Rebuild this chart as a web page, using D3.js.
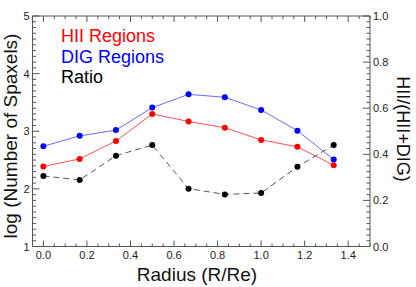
<!DOCTYPE html>
<html>
<head>
<meta charset="utf-8">
<script src="https://cdn.jsdelivr.net/npm/d3@7"></script>
<style>
  body { margin: 0; background: #fff; }
  text { font-family: "Liberation Sans", Arial, sans-serif; }
</style>
</head>
<body>
<svg id="chart" width="416" height="287"></svg>
<script>
const radius = [0, 1/6, 2/6, 3/6, 4/6, 5/6, 1, 7/6, 8/6];
const hiiCounts = [2.39, 2.52, 2.83, 3.30, 3.17, 3.06, 2.85, 2.73, 2.41];
const digCounts = [2.74, 2.92, 3.02, 3.41, 3.64, 3.59, 3.37, 3.01, 2.51];
const ratio = [0.306, 0.289, 0.394, 0.440, 0.251, 0.226, 0.232, 0.346, 0.440];
const xTicks = [0, 0.2, 0.4, 0.6, 0.8, 1.0, 1.2, 1.4];
const yTicks = [1, 2, 3, 4, 5];
const y2Ticks = [0, 0.2, 0.4, 0.6, 0.8, 1.0];

const svg = d3.select("#chart");
const plotL = 32.5, plotR = 370, plotT = 16, plotB = 246.5;
const axisColor = "#555";

const x = d3.scaleLinear().domain([-0.05, 1.5]).range([plotL, plotR]);
const y = d3.scaleLinear().domain([1, 5]).range([plotB, plotT]);
const y2 = d3.scaleLinear().domain([0, 1]).range([plotB, plotT]);

// frame lines
const frame = svg.append("g").attr("stroke", axisColor).attr("stroke-width", 1);
frame.append("line").attr("x1", plotL).attr("x2", plotR).attr("y1", plotB).attr("y2", plotB);
frame.append("line").attr("x1", plotL).attr("x2", plotR).attr("y1", plotT).attr("y2", plotT);
frame.append("line").attr("x1", plotL).attr("x2", plotL).attr("y1", plotT).attr("y2", plotB);
frame.append("line").attr("x1", plotR).attr("x2", plotR).attr("y1", plotT).attr("y2", plotB);

// ticks
const ticks = svg.append("g").attr("stroke", axisColor).attr("stroke-width", 1);
const xMinor = d3.range(0, 1.5001, 0.05);
xMinor.forEach((v, i) => {
  const len = (i % 4 === 0) ? 6 : 3;
  ticks.append("line").attr("x1", x(v)).attr("x2", x(v)).attr("y1", plotB).attr("y2", plotB - len);
  ticks.append("line").attr("x1", x(v)).attr("x2", x(v)).attr("y1", plotT).attr("y2", plotT + len);
});
d3.range(1, 5.0001, 0.1).forEach((v, i) => {
  const len = (i % 10 === 0) ? 7 : 3.5;
  ticks.append("line").attr("x1", plotL).attr("x2", plotL + len).attr("y1", y(v)).attr("y2", y(v));
});
d3.range(0, 1.0001, 0.025).forEach((v, i) => {
  const len = (i % 8 === 0) ? 7 : 3.5;
  ticks.append("line").attr("x1", plotR).attr("x2", plotR - len).attr("y1", y2(v)).attr("y2", y2(v));
});

// tick labels
svg.append("g").selectAll("text").data(xTicks).enter().append("text")
  .attr("x", d => x(d)).attr("y", 259).attr("text-anchor", "middle")
  .attr("font-size", 11).attr("fill", "#222")
  .text(d => d3.format(".1f")(d));
svg.append("g").selectAll("text").data(yTicks).enter().append("text")
  .attr("x", plotL - 3).attr("y", d => y(d) + 4).attr("text-anchor", "end")
  .attr("font-size", 11).attr("fill", "#222")
  .text(d => d);
svg.append("g").selectAll("text").data(y2Ticks).enter().append("text")
  .attr("x", plotR + 3).attr("y", d => y2(d) + 4).attr("text-anchor", "start")
  .attr("font-size", 11).attr("fill", "#222")
  .text(d => d3.format(".1f")(d));

// axis titles
svg.append("text").attr("x", 197).attr("y", 281)
  .attr("text-anchor", "middle").attr("font-size", 19).attr("fill", "#111")
  .text("Radius (R/Re)");
svg.append("text").attr("transform", "translate(17,136) rotate(-90)")
  .attr("text-anchor", "middle").attr("font-size", 19).attr("fill", "#111")
  .text("log (Number of Spaxels)");
svg.append("text").attr("transform", "translate(397,129) rotate(90)")
  .attr("text-anchor", "middle").attr("font-size", 18).attr("fill", "#111")
  .text("HII/(HII+DIG)");

// series
const series = [
  { vals: digCounts, sc: y, color: "blue", line: "#6a6aff", dash: null },
  { vals: hiiCounts, sc: y, color: "red", line: "#ff5050", dash: null },
  { vals: ratio, sc: y2, color: "black", line: "#555", dash: "6,4" }
];
series.forEach(s => {
  const pts = radius.map((r, i) => [r, s.vals[i]]);
  const line = d3.line().x(d => x(d[0])).y(d => s.sc(d[1]));
  svg.append("path").datum(pts).attr("d", line)
    .attr("fill", "none").attr("stroke", s.line).attr("stroke-width", 1)
    .attr("stroke-dasharray", s.dash);
  svg.append("g").selectAll("circle").data(pts).enter().append("circle")
    .attr("cx", d => x(d[0])).attr("cy", d => s.sc(d[1])).attr("r", 3)
    .attr("fill", s.color);
});

// legend
const legend = [["HII Regions", "red"], ["DIG Regions", "blue"], ["Ratio", "black"]];
svg.append("g").selectAll("text").data(legend).enter().append("text")
  .attr("x", 61).attr("y", (d, i) => 42 + i * 20.5)
  .attr("font-size", 18).attr("fill", d => d[1])
  .text(d => d[0]);
</script>
</body>
</html>
